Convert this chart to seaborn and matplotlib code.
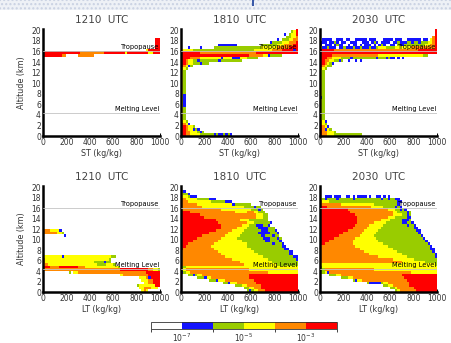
import numpy as np
import pandas as pd
import matplotlib.pyplot as plt
import seaborn as sns
from matplotlib.colors import ListedColormap, BoundaryNorm
from matplotlib.cm import ScalarMappable
from matplotlib.patches import Rectangle

# Frequency class of every (altitude, mixing ratio) cell.
# One string per 0.5 km altitude bin, from 20.0-20.5 km down to 0.0-0.5 km.
# One character per 20 kg/kg bin (spaces only group the bins by ten):
# '.' <1e-7, 'b' 1e-7..1e-6, 'g' 1e-6..1e-5, 'y' 1e-5..1e-4, 'o' 1e-4..1e-3, 'r' >1e-3
ST_1210 = [''] * 4 + [
    '.......... .......... .......... .......... ........rr',
    '.......... .......... .......... .......... ........rr',
    '.......... .......... .......... .......... ........rr',
    '.......... .......... .......... .......... ........rr',
    '.......... .......... .......... .......... ....yrrrrr',
    'rrrrrrrrrr rrrrrroooo oooooorrrr rrrrryrrrr rrrrryyrrr',
    'rrrrrrrroo .....ooooo oo',
] + [''] * 30

ST_1810 = [
    '.......... .......... .......... .......... .........r',
    '.......... .......... .......... .......... .......gyr',
    '.......... .......... .......... .......... ....b.gyyr',
    '.......... .......... .......... .......... .....ggyyo',
    '.......... .......... .......... .......... .b.gggyyoo',
    '.......... .......... .......... ........bg gggyyyooor',
    '.......... ......bbbb bbbb...... ....gggggg gyyyoooorr',
    '...b....b. ....gggggg gggggggggg ggggyyyyyy yooooorrrr',
    'yyyyyggggg gggggggggg gggggggggg gyyyyyyyyo ooorrrrrbr',
    'rrrrrrrroo oooooooooo oooooooooo oorrrrrrrr rrrrrrrrrr',
    'rrrrrrrrrr rrrrrrrrrr rrrrrrrrro oooooyybgg ggg',
    'rrrrooooyy yyyyyyybyy yybbbyyygg ggg',
    'rroyyggbgg ggggggbggg gggggg',
    'rroyygggbg gg',
    'roybg',
    'oyg',
    'yg',
] + ['yg'] * 8 + ['yb'] * 5 + ['yg'] * 5 + [
    'oyg',
    'royb',
    'rroyyg',
    'rroyybgb',
    'rrooyyygbg',
    'rrooyyyygg ggggbgbbgb gb',
]

ST_2030 = [
    '.......... .......... .......... .......... .........r',
    '.......... .......... .......... .......... .........r',
    '.......... .......... .......... .......... .........r',
    '.......... .......... .......... .......... ........or',
    '.bbbb..bbb .bb..bbbbb .bbb...bbb b.bbb..bbb bbb.bb.yor',
    'bbb.bbgb.b b..bbb..bb b.bgb.bbbb .bbgbbbggb ggbgggyyor',
    'b.bbb.bgbb ..b.bb.b.b bb.b.bgb.. bb.gbbgggg gggggyyoor',
    'ybbgbbb.bb gbbbgbbgbb bgbbgyyygg ggyyyyyyyo ooooooooor',
    'rrrrrroooo oooooooooo oooooooooo oooooooooo oorrrrrrrr',
    'rrrrrrrrrr rrrrrrrrrr rrrrrrrrrr rrrrrrrrrr rrrrrrrrrr',
    'rrrrrooooo oooooooooo oooooyyyyy yyyyyyyyyy yyyygg',
    'rrrooyyyyg gggbgggggg ggggbgggbg bb.b.b',
    'rrooyyggbg ..b..b.b',
    'rroygb',
    'roygg',
    'oyg',
    'yg',
] + ['yg'] * 9 + ['bg'] + ['yg'] * 8 + [
    'oyb',
    'oyg',
    'royb',
    'robyg',
    'rooyyyg',
    'rooyyygggg gggggggg',
]

LT_1210 = [''] * 17 + [
    'oooyyyyb',
    'ooooooyyg',
    '.........b',
] + [''] * 7 + [
    'yyyyyyyyby yyyyyyyyyy yyyyyyyyyg g',
    'oyyyyyyyyy yyyyyyyyyy yyyyyyyyg',
    'oyyyyyyyyy yyyyyyyyyy yyggggbgg',
    'ooyyyyyyyy yyyyyyyyyy yyyggggyyy g',
    'rrroooorrr rrrrroooyy yyyyyyyyyy yyg',
    'oooooooooo oooooooooo oooooooooo ooorrrrrrr rrrrrooyyg',
    '.......... .g.yyooooo oooooooooo oooooooooo oooorrrrrr',
    '.......... .......... .......... ...yoooooo ooooorrrrr',
    '.......... .......... .......... .......... .yyyobrrrr',
    '.......... .......... .......... .......... ..yyyoorrr',
    '.......... .......... .......... .......... ...yyoorrr',
    '.......... .......... .......... .......... gyyyyyyyrr',
    '.......... .......... .......... .......... .yyoooyyy.',
    '.......... .......... .......... .......... ..yoy',
]

LT_1810 = [
    '',
    '',
    'gb',
    'yggb',
    'yyygbbb',
    'ooyyyyyggg ggbbb',
    'oooyyyyyyy yyyggggggb bb',
    'oooooooyyy yyyyyyyyyy yybggggggg',
    'oooooooooy yyyyyyyyyy yyyyyyyggg gbgg',
    'oooooooooo oooooooyyy yyyyyyyyyy gggbg',
    'rrrroooooo oooooooooo oooyyyyyoo oyyggg',
    'rrrrrrrroo oooooooooo oooooooooo ooyyygg',
    'rrrrrrrrrr oooooooooo oooooooooo ooyyygg',
    'rrrrrrrrrr rrrrrooooo oooooyyyyg ggggggg',
    'rrrrrrrrrr rrrrrroooo ooooooooyy ygggggggb',
    'rrrrrrrrrr rrrrrrrooo ooooooyyyg ggbbbggb',
    'rrrrrrrrrr rrrrrrrooo ooooyyyygg gggbbbbggg',
    'rrrrrrrrrr rrrrrooooo ooyyyyyggg ggggbbbggg b',
    'rrrrrrrrrr rroooooooo yyyyyygggg gggbbbbbgg gb',
    'rrrrrrrrro oooooooooy yyyyyggggg ggggbbgggb gg',
    'rrrrrrrooo oooooooyyy yyyygggggg gggggbbbgg gbg',
    'rrrrrooooo ooooooyyyy yyyyyygggg ggggggbbgg ggb',
    'rrrooooooo ooooyyyyyy yyyyyyyygg gggggggggb gggb',
    'rroooooooo oooyyyyyyy yyyyyyyygg gggggggggg gggbb',
    'rooooooooo ooooyyyyyy yyyyyyyyyy gggggggggg ggggbb',
    'oooooooooo ooooooyyyy yyyyyyyyyy yggggggggg ggggggbb',
    'oooooooooo oooooooyyy yyyyyyyyyy yyyggggggg ggggggbb',
    'oooooooooo oooooooooy yyyyyyyyyy yyyyyggggg ggggggggbb',
    'oooooooooo oooooooooo ooyyyyyyyy yyyyyyyggg gggggggggb',
    'oooooooooo oooooooooo oooooyyyyy yyyyyyyyyg gggggggggg',
    'oooooooooo oooooooooo oooooooyyy yyyyyyyyyy yggggggggg',
    'ggyyyyyyyy yyyyyyyyyy yyyyyyyyyy yyyyyyyyyy yyyyyyyyyy',
    'gyoooooooo oooooooooo oooooooooy yyyyyyyyyy yyyyyyyyyy',
    'bgyyoooooo oooooooooo oooooooooo oooooooyyy yyyyyyyyyy',
    '...ggbgyyo oooooooooo ooooooooor rrrrrrrrrr rrrrrrrrrr',
    '.......ggg byyooooooo ooooooooor rrrrrrrrrr rrrrrrrrrr',
    '.......... ..gggbyyyo oooooooooo orrrrrrrrr rrrrrrrrrr',
    '.......... ........gg byyyoooooo oorrrrrrrr rrrrrrrrrr',
    '.......... .......... ...gggyyoo oooorrrrrr rrrrrrrrrr',
    '.......... .......... .......ggy yooorrrrrr rrrrrrrrrr',
    '.......... .......... ........gb gyyooorrrr rrrrrrrrrr',
]

LT_2030 = [''] * 4 + [
    '..bbb.bbb. .bb.b.bbbb .b..bb.b.b',
    'ygbggggbgg ggggbggggg ggggggbggb ggbb',
    'oyyygggggg gggggggggg gggggggggg gggbb',
    'oooooooooy yyyyyyyyyy yyyggggggg gggb',
    'rrrooooooo oooooooooo ooyyyyyggg ggbgb',
    'rrrrrrrrrr rroooooooo oooooooooy yyggbgb',
    'rrrrrrrrrr rrrooooooo oooooooooo oyyggggbg',
    'rrrrrrrrrr rrrrrooooo oooooooooo oyyyyggbg',
    'rrrrrrrrrr rrrrrroooo oooooooooy yygggggbb',
    'rrrrrrrrrr rrrrrroooo ooooooyyyy gggggbbbg',
    'rrrrrrrrrr rrrrrroooo oooyyyyygg gggggbbggb',
    'rrrrrrrrrr rrrrrooooo oyyyyyyggg gggggggbgg b',
    'rrrrrrrrrr rrrroooooo yyyyyygggg gggggggggg bb',
    'rrrrrrrrrr rroooooooy yyyyyggggg gggggggggg gbb',
    'rrrrrrrrrr ooooooooyy yyyygggggg gggggggggg ggb',
    'rrrrrrrroo oooooooyyy yyyggggggg gggggggggg gggb',
    'rrrrrroooo oooooyyyyy yyyygggggg gggggggggg ggggb',
    'rrrroooooo ooooyyyyyy yyyyyggggg gggggggggg gggggb',
    'rroooooooo ooooyyyyyy yyyyyyyggg gggggggggg ggggggb',
    'oooooooooo oooooyyyyy yyyyyyyyyg gggggggggg gggggggb',
    'oooooooooo oooooooyyy yyyyyyyyyy yggggggggg gggggggbb',
    'oooooooooo oooooooooy yyyyyyyyyy yyyggggggg ggggggggb',
    'oooooooooo oooooooooo oyyyyyyyyy yyyyyggggg gggggggggb',
    'oooooooooo oooooooooo oooooyyyyy yyyyyyyggg gggggggggb',
    'oooooooooo oooooooooo oooooooooo oyyyyyyyyy gggggggggg',
    'oooooooooo oooooooooo oooooooooo oooooyyyyy yyyyyggggg',
    'yyyyyyyyyy yyyyyyyyyy yyyyyyyyyy yyyyyyyyyy yyyyyyyyyg',
    'gyyyyyyyyy yyyyyyyyyy yyyyyyyyyy yyyyyyyyyy yyyyyyyyyy',
    'ggoooooooo oooooooooo oooyyyyyyy yyyyyyyyyy yyyyyyyyyy',
    'ggyboooooo oooooooooo oooooooooo oooooooooy yyyyyyyyyy',
    '....gggyyo oooooooooo oooooooooo ooooorrrrr rrrrrrrrrr',
    '.........g ggyyoooooo oooooooooo oooooorrrr rrrrrrrrrr',
    '.......... ....gbyyoo oooooooooo ooooooorrr rrrrrrrrrr',
    '.......... .......... gbbbbbgyyo oooooooorr rrrrrrrrrr',
    '.......... .......... .......ggy yooooooorr rrrrrrrrrr',
    '.......... .......... .......... ggyooooooo rrrrrrrrrr',
    '.......... .......... .......... ..gyoooooo orrrrrrrrr',
]

PANELS = [
    (ST_1210, '1210  UTC', 'ST (kg/kg)'),
    (ST_1810, '1810  UTC', 'ST (kg/kg)'),
    (ST_2030, '2030  UTC', 'ST (kg/kg)'),
    (LT_1210, '1210  UTC', 'LT (kg/kg)'),
    (LT_1810, '1810  UTC', 'LT (kg/kg)'),
    (LT_2030, '2030  UTC', 'LT (kg/kg)'),
]

LEVELS = '.bgyor'
LEVEL_FREQ = [0.0, 3e-7, 3e-6, 3e-5, 3e-4, 3e-3]
BOUNDS = [0.0, 1e-7, 1e-6, 1e-5, 1e-4, 1e-3, 1e-2]
COLORS = ['#ffffff', '#1414ff', '#99cc00', '#ffff00', '#ff8800', '#ff0000']
CBAR_TICKS = [1e-7, 1e-5, 1e-3]
CBAR_LABELS = ['$10^{-7}$', '$10^{-5}$', '$10^{-3}$']

ALT_TOP = 20.5      # upper edge of the first altitude bin (km)
ALT_SHOWN = 20.25   # top of the axes (km)
DZ = 0.5
DX = 20
NX = 50
ALT_TICKS = list(range(0, 21, 2))
X_TICKS = list(range(0, 1001, 200))
TROPOPAUSE = 16.0
MELTING = 4.4

TEXT = '#333333'


def decode(rows):
    assert len(rows) == 41, len(rows)
    grid = np.zeros((len(rows), NX))
    for i, row in enumerate(rows):
        cells = row.replace(' ', '')[:NX]
        for j, ch in enumerate(cells):
            grid[i, j] = LEVEL_FREQ[LEVELS.index(ch)]
    alts = ALT_TOP - DZ * np.arange(1, len(rows) + 1)
    return pd.DataFrame(grid, index=alts, columns=np.arange(NX) * DX)


def ypos(alt):
    return (ALT_TOP - alt) / DZ


sns.set_style('ticks')
plt.rcParams['font.family'] = ['DejaVu Sans']

cmap = ListedColormap(COLORS)
norm = BoundaryNorm(BOUNDS, cmap.N)

W, H = 452, 343
fig = plt.figure(figsize=(W / 100, H / 100), dpi=100)

# faint slide header strip
fig.patches.append(Rectangle((0, 1 - 10 / H), 1, 10 / H, transform=fig.transFigure,
                             facecolor='#eef1f6', edgecolor='#c9d1e2', hatch='....', lw=0))
fig.patches.append(Rectangle((252 / W, 1 - 6 / H), 2 / W, 6 / H, transform=fig.transFigure,
                             facecolor='#3a5aa8', lw=0))

lefts = [43, 181, 320]
rows_px = [(29, 136), (186, 292)]

for n, (rows, title, xlabel) in enumerate(PANELS):
    r, c = divmod(n, 3)
    top, bot = rows_px[r]
    ax = fig.add_axes([lefts[c] / W, 1 - bot / H, 117 / W, (bot - top) / H])
    data = decode(rows)
    sns.heatmap(data, ax=ax, cmap=cmap, norm=norm, cbar=False,
                xticklabels=False, yticklabels=False)
    ax.set_xlim(0, NX)
    ax.set_ylim(ypos(0), ypos(ALT_SHOWN))

    for side in ['left', 'bottom']:
        ax.spines[side].set_visible(True)
        ax.spines[side].set_linewidth(1.8)
        ax.spines[side].set_color('black')
    ax.set_xticks([v / DX for v in X_TICKS])
    ax.set_xticklabels([str(v) for v in X_TICKS])
    ax.set_yticks([ypos(a) for a in ALT_TICKS])
    ax.set_yticklabels([str(a) for a in ALT_TICKS])
    ax.tick_params(direction='in', length=2.5, width=0.8, labelsize=5.5,
                   pad=1.5, colors='black', labelcolor=TEXT)

    for alt, label in [(TROPOPAUSE, 'Tropopause'), (MELTING, 'Melting Level')]:
        ax.axhline(ypos(alt), color='#c4c4c4', lw=0.6, zorder=3)
        ax.text(NX - 0.3, ypos(alt) - 0.4, label, ha='right', va='bottom',
                fontsize=4.8, color='black', zorder=4)

    ax.set_title(title, fontsize=7.5, color='#444444', pad=4)
    ax.set_xlabel(xlabel, fontsize=5.8, color=TEXT, labelpad=1.5)
    ax.set_ylabel('Altitude (km)' if c == 0 else '', fontsize=5.8, color=TEXT,
                  labelpad=4)

cax = fig.add_axes([151 / W, 1 - 329 / H, 186 / W, 7 / H])
sm = ScalarMappable(norm=norm, cmap=cmap)
cb = fig.colorbar(sm, cax=cax, orientation='horizontal', spacing='uniform',
                  ticks=CBAR_TICKS)
cb.set_ticklabels(CBAR_LABELS)
cb.outline.set_linewidth(0.6)
cb.outline.set_edgecolor('#333333')
cax.tick_params(length=0, labelsize=5.5, pad=2, labelcolor=TEXT)

fig.savefig('out.png', dpi=100)
